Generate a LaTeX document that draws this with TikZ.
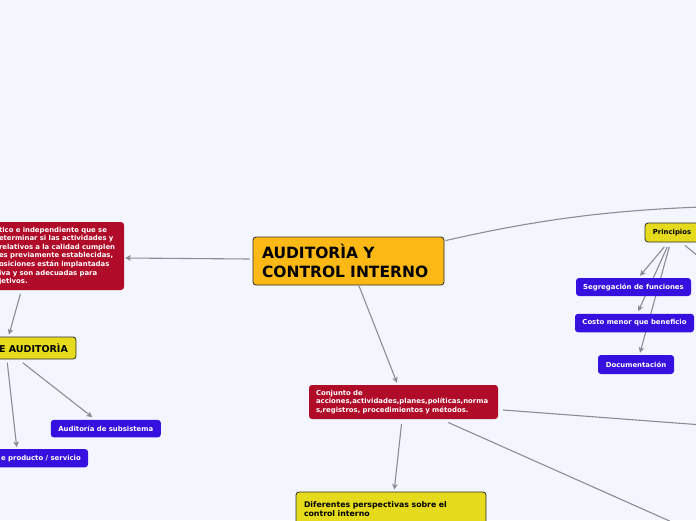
\documentclass[tikz,border=0pt]{standalone}
\usepackage{fontspec}
\setmainfont{DejaVu Sans}
\usetikzlibrary{arrows.meta,calc}
\definecolor{bgc}{RGB}{243,246,255}
\definecolor{redc}{RGB}{176,11,40}
\definecolor{bluec}{RGB}{54,16,222}
\definecolor{yelc}{RGB}{229,219,28}
\definecolor{orac}{RGB}{252,185,22}
\definecolor{linec}{RGB}{138,140,150}
\definecolor{edgec}{RGB}{45,45,45}
\pgfdeclarelayer{bglayer}
\pgfsetlayers{bglayer,main}
\begin{document}
\begin{tikzpicture}[x=1pt,y=-1pt,
  basebox/.style={rounded corners=3pt, inner ysep=0pt},
  orabox/.style={basebox, fill=orac, draw=edgec, line width=0.8pt, text=black},
  yelbox/.style={basebox, fill=yelc, draw=edgec, line width=0.8pt, text=black},
  redbox/.style={basebox, fill=redc, text=white},
  bluebox/.style={basebox, fill=bluec, text=white, inner xsep=0pt},
  small/.style={font=\bfseries\fontsize{6.9}{8.6}\selectfont},
  conn/.style={draw=linec, line width=1.1pt, -{Stealth[length=5.5pt,width=5.5pt,inset=1.2pt]}},
  plain/.style={draw=linec, line width=1.1pt}]
\useasboundingbox (0,0) rectangle (696,520);

% nodes
\node[orabox, text width=173pt, inner xsep=9pt, minimum height=48pt, align=left,
      font=\bfseries\fontsize{15.5}{19}\selectfont] (main) at (348.5,261) {AUDITORÌA Y\\CONTROL INTERNO};

\node[redbox, small, text width=121pt, inner xsep=4pt, minimum height=68pt, align=left] (redL) at (59.5,256)
 {tico e independiente que se\\eterminar si las actividades y\\relativos a la calidad cumplen\\es previamente establecidas,\\osiciones están implantadas\\iva y son adecuadas para\\jetivos.};

\node[yelbox, minimum width=85pt, minimum height=22pt, inner xsep=0pt,
      font=\bfseries\fontsize{9.5}{11}\selectfont] (tipos) at (33.5,348) {E AUDITORÌA};

\node[bluebox, small, minimum width=110pt, minimum height=17.5pt] (sub) at (105.8,428.6) {Auditoría de subsistema};
\node[bluebox, small, minimum width=94pt, minimum height=18.3pt] (prod) at (41,458.2) {e producto / servicio};

\node[redbox, small, text width=175pt, inner xsep=7pt, minimum height=34pt, align=left] (conj) at (403.5,402)
 {Conjunto de\\acciones,actividades,planes,políticas,norma\\s,registros, procedimientos y métodos.};

\node[yelbox, text width=174pt, inner xsep=8pt, minimum height=34pt, align=left,
      font=\bfseries\fontsize{7.8}{9}\selectfont] (dif) at (391,509) {Diferentes perspectivas sobre el\\control interno};

\node[yelbox, small, minimum width=54pt, minimum height=19pt, inner xsep=0pt] (prin) at (672,232.5) {Principios};
\node[bluebox, small, minimum width=115pt, minimum height=18pt] (seg) at (633.5,287) {Segregación de funciones};
\node[bluebox, small, minimum width=119pt, minimum height=18.5pt] (costo) at (634.5,323) {Costo menor que beneficio};
\node[bluebox, small, minimum width=76pt, minimum height=19pt] (doc) at (636,364.5) {Documentación};

% free ends outside the visible area
\coordinate (offA) at (740,206);
\coordinate (offB) at (700,424.8);
\coordinate (offC) at (670,521.2);
\coordinate (offD) at (710,266);

\begin{pgfonlayer}{bglayer}
\fill[bgc] (0,0) rectangle (696,520);
\draw[conn] ($(main.west)+(-3,-2)$) -- ($(redL.east)+(1,2)$);
\draw[conn] ($(main.south)+(10.5,0.5)$) -- ($(conj.north)+(-6.5,-2)$);
\draw[plain] ($(main.north east)+(1,4)$) .. controls (540,219) and (620,208) .. (offA);
\draw[conn] ($(conj.south)+(-2,5)$) -- ($(dif.north)+(3.3,-2)$);
\draw[plain] ($(conj.east)+(5,8)$) -- (offB);
\draw[plain] ($(conj.south)+(44.8,3.3)$) -- (offC);
\draw[conn] ($(redL.south west)+(25.7,3.5)$) -- ($(tipos.north)+(-24.5,-2)$);
\draw[conn] ($(tipos.south)+(-10.8,3.3)$) -- ($(sub.north)+(-13.5,-2.5)$);
\draw[conn] ($(tipos.south)+(-26.2,3.3)$) -- ($(prod.north)+(-24.3,-1.7)$);
\draw[conn] ($(prin.south)+(-7.7,4.5)$) -- ($(seg.north)+(6.5,-2)$);
\draw[conn] ($(prin.south)+(-4.7,4.5)$) -- ($(costo.north)+(3.8,-2.3)$);
\draw[conn] ($(prin.south)+(-2.7,4.5)$) -- ($(doc.north)+(4,-2)$);
\draw[plain] ($(prin.south)+(13,3)$) -- (offD);
\end{pgfonlayer}
\end{tikzpicture}
\end{document}
